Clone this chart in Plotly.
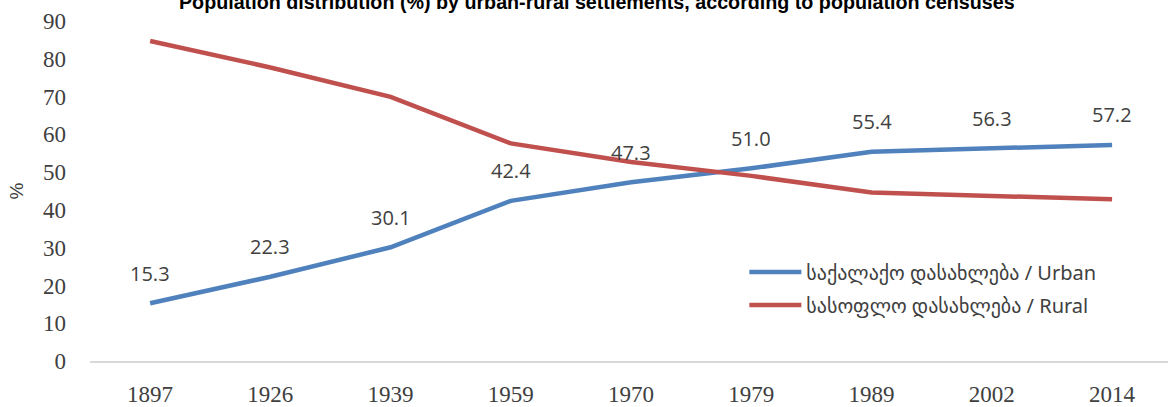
import plotly.graph_objects as go

years = ["1897", "1926", "1939", "1959", "1970", "1979", "1989", "2002", "2014"]
urban = [15.3, 22.3, 30.1, 42.4, 47.3, 51.0, 55.4, 56.3, 57.2]
rural = [84.7, 77.7, 69.9, 57.6, 52.7, 49.0, 44.6, 43.7, 42.8]
urban_name = "საქალაქო დასახლება / Urban"
rural_name = "სასოფლო დასახლება / Rural"
title = "Population distribution (%) by urban-rural settlements, according to population censuses"

fig = go.Figure()
fig.add_trace(go.Scatter(x=years, y=urban, mode="lines", name=urban_name, legendgroup="u",
                         line=dict(color="#4F81BD", width=4.5)))
fig.add_trace(go.Scatter(x=years, y=rural, mode="lines", name=rural_name, legendgroup="r",
                         line=dict(color="#C0504D", width=4.5)))

for i, yv in enumerate(urban):
    fig.add_annotation(x=i, y=yv, text=f"{yv:.1f}", showarrow=False,
                       yshift=30, xshift=0,
                       font=dict(family="Open Sans, Noto Sans, sans-serif", size=20, color="#404040"))

tick_font = dict(family="Liberation Serif, DejaVu Serif, serif", size=23, color="#404040")

fig.update_layout(
    width=1168, height=407,
    margin=dict(l=90, r=0, t=21, b=46),
    plot_bgcolor="white", paper_bgcolor="white",
    title=dict(text=f"<b>{title}</b>", x=0.511, xanchor="center", y=0.994, yanchor="middle",
               xref="container", yref="container",
               font=dict(family="Liberation Sans, Arial, sans-serif", size=19.7, color="#000000")),
    showlegend=True,
    legend=dict(x=0.607, y=0.319, xanchor="left", yanchor="top",
                bgcolor="rgba(0,0,0,0)", tracegroupgap=4, traceorder="grouped",
                font=dict(family="Noto Sans, DejaVu Sans, sans-serif", size=20, color="#404040"),
                itemwidth=52),
    xaxis=dict(type="category", range=[-0.5, 8.465], showgrid=False,
               showline=True, linecolor="#D9D9D9", linewidth=1.5, ticks="",
               tickfont=tick_font, ticklabelstandoff=12),
    yaxis=dict(range=[0, 90], dtick=10, showgrid=False, zeroline=False, showline=False,
               tickfont=tick_font, ticklabelstandoff=23,
               title=dict(text="%", standoff=14,
                          font=dict(family="Liberation Sans, Arial, sans-serif", size=19, color="#404040"))),
)

fig.write_html("out.html", config={"displayModeBar": False},
               post_script="document.body.style.margin='0';")
